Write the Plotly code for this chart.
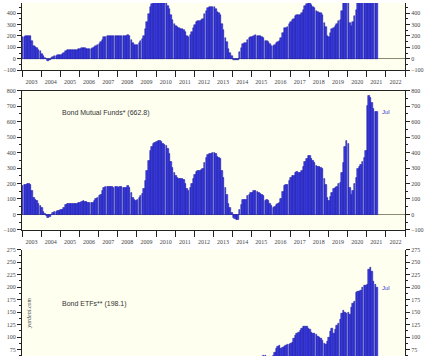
import pandas as pd
import plotly.graph_objects as go

# Monthly 12-month sums, billion dollars, Jan 2003 .. Jul 2021
bond_mutual_funds = [
    185, 190, 193, 195, 195, 192, 150, 105, 95, 85, 70, 55,          # 2003
    40, 20, 5, -10, -25, -15, 0, 8, 15, 20, 25, 25,                  # 2004
    28, 30, 45, 62, 68, 70, 70, 68, 67, 68, 70, 72,                  # 2005
    75, 82, 85, 83, 80, 78, 75, 75, 78, 90, 100, 110,                # 2006
    118, 130, 150, 172, 178, 180, 178, 180, 178, 175, 178, 178,      # 2007
    175, 178, 176, 175, 172, 175, 182, 175, 140, 110, 95, 90,        # 2008
    95, 105, 118, 135, 165, 220, 280, 350, 410, 440, 455, 465,       # 2009
    472, 477, 475, 468, 458, 452, 445, 425, 395, 340, 300, 270,      # 2010
    252, 240, 233, 232, 230, 222, 200, 165, 155, 172, 200, 230,      # 2011
    258, 278, 285, 285, 288, 298, 335, 365, 388, 395, 395, 400,      # 2012
    400, 390, 370, 365, 358, 280, 235, 170, 130, 70, 40, 10,         # 2013
    -22, -30, -32, -35, 30, 60, 95, 95, 95, 120, 130, 140,           # 2014
    142, 150, 150, 146, 140, 136, 130, 120, 90, 95, 85, 70,          # 2015
    55, 45, 52, 60, 66, 72, 100, 145, 185, 190, 190, 218,            # 2016
    238, 250, 252, 268, 275, 272, 272, 282, 310, 340, 362, 382,      # 2017
    380, 362, 345, 335, 315, 308, 305, 300, 292, 230, 190, 105,      # 2018
    90, 112, 140, 165, 175, 180, 200, 205, 270, 335, 435, 475,       # 2019
    455, 170, 130, 155, 200, 240, 295, 310, 320, 340, 365, 410,      # 2020
    705, 765, 755, 720, 685, 665, 662.8,                             # 2021
]

bond_etfs = [
    5, 5, 6, 6, 7, 7, 8, 8, 8, 8, 9, 9,
    6, 5, 5, 4, 3, 4, 5, 5, 6, 6, 7, 7,
    8, 8, 9, 9, 9, 10, 10, 10, 10, 10, 10, 10,
    10, 10, 10, 9, 9, 10, 10, 11, 12, 12, 13, 14,
    14, 15, 16, 17, 17, 18, 18, 19, 20, 22, 23, 24,
    25, 26, 27, 28, 28, 28, 27, 26, 25, 24, 26, 28,
    30, 32, 34, 36, 38, 40, 42, 42, 42, 43, 44, 45,
    45, 44, 43, 42, 40, 40, 40, 40, 42, 42, 40, 38,
    36, 35, 33, 32, 32, 33, 34, 35, 35, 37, 38, 40,
    42, 44, 46, 48, 50, 52, 54, 55, 55, 56, 57, 56,
    50, 45, 40, 35, 28, 22, 18, 16, 15, 15, 14, 14,
    15, 17, 20, 23, 28, 32, 36, 40, 43, 46, 48, 50,
    52, 54, 56, 57, 58, 60, 62, 64, 63, 60, 58, 58,
    60, 63, 70, 78, 82, 83, 78, 80, 82, 83, 85, 86,
    87, 90, 97, 104, 107, 110, 113, 117, 121, 122, 121, 118,
    115, 110, 108, 108, 105, 102, 100, 97, 93, 88, 86, 92,
    100, 112, 117, 107, 115, 123, 127, 135, 148, 154, 150, 148,
    150, 146, 160, 168, 172, 190, 191, 191, 193, 200, 203, 204,
    205, 236, 240, 232, 212, 205, 198.1,
]

total_bond_funds = [a + b for a, b in zip(bond_mutual_funds, bond_etfs)]

months = pd.date_range("2003-01-01", periods=len(bond_mutual_funds), freq="MS") + pd.Timedelta(days=14)

mf_label = "Bond Mutual Funds* (662.8)"
etf_label = "Bond ETFs** (198.1)"
last_month = "Jul"
source = "yardeni.com"

W, H = 431, 359
ML, MR = 22, 26
PW = W - ML - MR

BAR = "#3c3ce8"
BAR_LINE = "#12129e"
BG = "#fffff0"
AXC = "#222222"
TICKFONT = dict(family="Liberation Serif", size=6, color="#444444")

fig = go.Figure()

panels = [
    ("x", "y", total_bond_funds),
    ("x2", "y2", bond_mutual_funds),
    ("x3", "y3", bond_etfs),
]
for xa, ya, vals in panels:
    fig.add_trace(go.Bar(x=months, y=vals, xaxis=xa, yaxis=ya,
                         marker=dict(color=BAR, line=dict(color=BAR_LINE, width=0.5)),
                         showlegend=False, hoverinfo="skip"))

# invisible traces to activate right-hand label axes
for xa, ya in [("x", "y4"), ("x2", "y5"), ("x3", "y6")]:
    fig.add_trace(go.Scatter(x=[months[0]], y=[0], xaxis=xa, yaxis=ya, mode="markers",
                             marker=dict(opacity=0), showlegend=False, hoverinfo="skip"))


def py(px):
    return 1 - px / H


def pxx(px):
    return (px - ML) / PW


domains = {
    "y": [py(68.3), 1.0],
    "y2": [py(230.7), py(89.3)],
    "y3": [0.0, py(250.7)],
}
ranges = {
    "y": [-100, 489],
    "y2": [-100, 800],
    "y3": [62.2, 275],
}
dticks = {"y": 100, "y2": 100, "y3": 25}

xcommon = dict(type="date", range=["2003-01-01", "2023-01-01"], dtick="M12", tick0="2003-01-01",
               ticklabelmode="period", tickformat="%Y", ticks="outside", ticklen=6, tickwidth=1,
               tickcolor=AXC, tickfont=TICKFONT, showgrid=False, zeroline=False,
               linecolor=AXC, linewidth=1, domain=[0, 1])

layout = dict(
    width=W, height=H, margin=dict(l=ML, r=MR, t=0, b=0),
    paper_bgcolor="white", plot_bgcolor=BG, bargap=0, barmode="overlay",
    font=dict(family="Liberation Sans", color="#333333"),
)

layout["xaxis"] = dict(xcommon, anchor="y", showline=True, mirror=False, showticklabels=True)
layout["xaxis2"] = dict(xcommon, anchor="y2", showline=True, mirror=True, showticklabels=True)
layout["xaxis3"] = dict(xcommon, anchor="y3", showline=False, showticklabels=False, ticks="")

for i, ya in enumerate(["y", "y2", "y3"]):
    key = "yaxis" if ya == "y" else "yaxis" + ya[1:]
    xa = ["x", "x2", "x3"][i]
    layout[key] = dict(domain=domains[ya], range=ranges[ya], anchor=xa, dtick=dticks[ya],
                       ticks="outside", ticklen=4, tickwidth=1, tickcolor=AXC, tickfont=TICKFONT,
                       showgrid=False, zeroline=True, zerolinecolor="#8c8a72", zerolinewidth=1,
                       showline=True, linecolor=AXC, linewidth=1, mirror=True,
                       minor=dict(ticks="outside", ticklen=2, dtick=dticks[ya] / 2, tickcolor=AXC))
    rkey = "yaxis" + str(4 + i)
    layout[rkey] = dict(overlaying=ya, side="right", anchor=xa, range=ranges[ya], dtick=dticks[ya],
                        ticks="outside", ticklen=4, tickwidth=1, tickcolor=AXC, tickfont=TICKFONT,
                        showgrid=False, zeroline=False, showline=False,
                        minor=dict(ticks="outside", ticklen=2, dtick=dticks[ya] / 2, tickcolor=AXC))

fig.update_layout(**layout)

annots = [
    dict(text=mf_label, x=pxx(60), y=py(111.5), xanchor="left", yanchor="middle",
         font=dict(family="Liberation Sans", size=7, color="#333333")),
    dict(text=last_month, x=pxx(380), y=py(111), xanchor="left", yanchor="middle",
         font=dict(family="Liberation Sans", size=6, color="#3535d0")),
    dict(text=etf_label, x=pxx(60), y=py(306.5), xanchor="left", yanchor="middle",
         font=dict(family="Liberation Sans", size=7, color="#333333")),
    dict(text=last_month, x=pxx(380), y=py(290), xanchor="left", yanchor="middle",
         font=dict(family="Liberation Sans", size=6, color="#3535d0")),
    dict(text=source, x=pxx(29), y=py(316), xanchor="center", yanchor="middle", textangle=-90,
         font=dict(family="Liberation Serif", size=6, color="#333333", style="italic")),
]
for a in annots:
    a.update(xref="paper", yref="paper", showarrow=False)
fig.update_layout(annotations=annots)

fig.write_html("out.html",
               config={"displayModeBar": False},
               post_script="document.body.style.margin='0';document.body.style.padding='0';"
                           "document.documentElement.style.overflow='hidden';")
